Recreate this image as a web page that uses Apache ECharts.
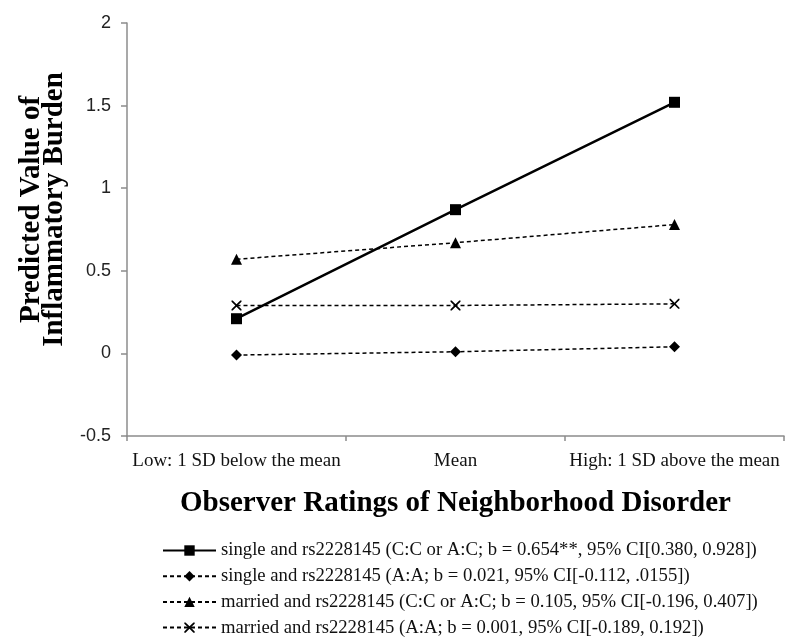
<!DOCTYPE html>
<html>
<head>
<meta charset="utf-8">
<script src="https://cdn.jsdelivr.net/npm/echarts@6/dist/echarts.min.js"></script>
<style>html,body{margin:0;padding:0;background:#fff;}#c{width:785px;height:637px;}</style>
</head>
<body>
<div id="c"></div>
<script>
const categories = ['Low: 1 SD below the mean', 'Mean', 'High: 1 SD above the mean'];
const seriesNames = [
  'single and rs2228145 (C:C or A:C; b = 0.654**, 95% CI[0.380, 0.928])',
  'single and rs2228145 (A:A; b = 0.021, 95% CI[-0.112, .0155])',
  'married and rs2228145 (C:C or A:C; b = 0.105, 95% CI[-0.196, 0.407])',
  'married and rs2228145 (A:A; b = 0.001, 95% CI[-0.189, 0.192])'
];
const singleCC = [0.21, 0.87, 1.52];
const singleAA = [-0.01, 0.01, 0.04];
const marriedCC = [0.57, 0.67, 0.78];
const marriedAA = [0.29, 0.29, 0.30];
const yTicks = [-0.5, 0, 0.5, 1, 1.5, 2];

const serif = '"Liberation Serif", "DejaVu Serif", serif';
const crossPath = 'path://M0,0 L1.2,0 L5,3.8 L8.8,0 L10,0 L10,1.2 L6.2,5 L10,8.8 L10,10 L8.8,10 L5,6.2 L1.2,10 L0,10 L0,8.8 L3.8,5 L0,1.2 Z';

function mk(name, data, symbol, size, solid) {
  return {
    name: name, type: 'line', data: data,
    symbol: symbol, symbolSize: size, showSymbol: true,
    itemStyle: { color: '#000' },
    lineStyle: { color: '#000', width: solid ? 2.5 : 1.5, type: solid ? 'solid' : [4, 3] },
    emphasis: { disabled: true },
    animation: false
  };
}

const chart = echarts.init(document.getElementById('c'));
chart.setOption({
  animation: false,
  grid: { left: 127, right: 1, top: 23, bottom: 201 },
  xAxis: {
    type: 'category', data: categories, boundaryGap: true,
    axisLine: { onZero: false, lineStyle: { color: '#8c8c8c', width: 1.5 } },
    axisTick: { show: true, length: 5, lineStyle: { color: '#8c8c8c', width: 1.5 } },
    axisLabel: { color: '#111', fontFamily: serif, fontSize: 19, margin: 16, interval: 0, hideOverlap: false },
    name: 'Observer Ratings of Neighborhood Disorder',
    nameLocation: 'middle', nameGap: 53,
    nameTextStyle: { fontFamily: serif, fontWeight: 'bold', fontSize: 29, color: '#000' }
  },
  yAxis: {
    type: 'value', min: -0.5, max: 2, interval: 0.5,
    axisLine: { show: true, lineStyle: { color: '#8c8c8c', width: 1.5 } },
    axisTick: { show: true, length: 6, lineStyle: { color: '#8c8c8c', width: 1.5 } },
    splitLine: { show: false },
    axisLabel: { color: '#222', fontFamily: '"Liberation Sans", "DejaVu Sans", sans-serif', fontSize: 18, margin: 16 },
    name: 'Predicted Value of\nInflammatory Burden',
    nameLocation: 'middle', nameGap: 52, nameRotate: 90,
    nameTextStyle: { fontFamily: serif, fontWeight: 'bold', fontSize: 29, color: '#000', lineHeight: 23, padding: [0, 0, 0, 40] }
  },
  legend: {
    orient: 'vertical', left: 157, top: 536, height: 130,
    itemWidth: 53, itemHeight: 13, itemGap: 6.7,
    data: seriesNames,
    textStyle: { fontFamily: serif, fontSize: 18.7, color: '#111' },
    selectedMode: false
  },
  series: [
    mk(seriesNames[0], singleCC, 'rect', 11, true),
    mk(seriesNames[1], singleAA, 'diamond', 11, false),
    mk(seriesNames[2], marriedCC, 'triangle', 11, false),
    mk(seriesNames[3], marriedAA, crossPath, 10, false)
  ]
});
</script>
</body>
</html>
